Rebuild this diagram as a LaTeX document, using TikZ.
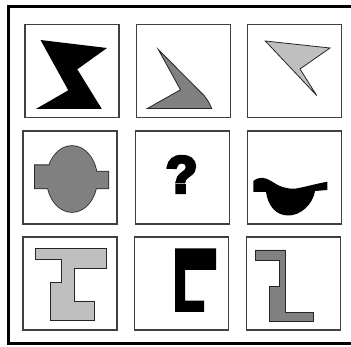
\documentclass[tikz,border=0pt]{standalone}
\usepackage{fontspec}
\setmainfont{Liberation Sans}
\newfontfamily\questfont[BoldFeatures={FakeBold=6}]{Liberation Sans}
\usepackage{tikz}
\usetikzlibrary{positioning}

\begin{document}
\begin{tikzpicture}[
  x=1pt, y=-1pt,
  cell/.style={draw=black!75, line width=1.1pt, minimum width=94pt, minimum height=93pt, inner sep=0pt},
  piece/.style={draw=black!85, line width=0.8pt},
  midgray/.style={fill=black!50},
  lightgray/.style={fill=black!25}
]
\useasboundingbox (0,0) rectangle (351,347);
\draw[line width=3pt] (352,7) -- (8,7) -- (8,344) -- (352,344);

\node[cell] (c11) at (72,71) {};
\node[cell, right=16pt of c11] (c12) {};
\node[cell, right=16pt of c12] (c13) {};
\node[cell] (c21) at (70,177.5) {};
\node[cell, right=17pt of c21] (c22) {};
\node[cell, right=17pt of c22] (c23) {};
\node[cell] (c31) at (70,283.5) {};
\node[cell, right=16pt of c31] (c32) {};
\node[cell, right=17pt of c32] (c33) {};

\fill (40.5,40) -- (107,48) -- (77.3,69.3) -- (101.7,108.8) -- (36.2,108.8) -- (68.3,90.3) -- cycle;
\filldraw[piece, midgray] (158.3,49.5) -- (204,95.5) .. controls (207,99) and (210,104) .. (211.7,108.5)
  -- (147.3,108.5) -- (180.5,89.8) -- cycle;
\filldraw[piece, lightgray] (265.3,41) -- (330,48) -- (300,69) -- (316.7,95.5) -- cycle;

\draw[line width=1.6pt, black!85] (35,165.3) rectangle (72,188.3) (72,171.7) rectangle (108.3,188.3)
  (72,179) ellipse [x radius=25pt, y radius=33pt];
\fill[black!50] (35,165.3) rectangle (72,188.3) (72,171.7) rectangle (108.3,188.3)
  (72,179) ellipse [x radius=25pt, y radius=33pt];
\node[font=\questfont\fontsize{52}{52}\selectfont\bfseries, inner sep=0pt] (quest) at (181.7,174.5) {?};
\fill (253.3,181) .. controls (257,178.5) .. (261.7,177.8) .. controls (268,178) and (272,182) .. (278.3,185.3)
  .. controls (284,188) and (290,189) .. (295,188.7) .. controls (305,187) and (315,184) .. (327.3,181.7)
  -- (327.3,190) -- (315,191) .. controls (313,204) and (301,215.5) .. (288.3,215.5)
  .. controls (276,215.5) and (268,206) .. (266,192) -- (253.3,192) -- cycle;

\filldraw[piece, lightgray] (35,248.3) -- (106,248.3) -- (106,268) -- (74,268) -- (74,301) -- (94,301)
  -- (94,320.3) -- (50,320.3) -- (50,282.5) -- (61.5,282.5) -- (61.5,259) -- (35,259) -- cycle;
\fill (175,248.3) -- (216,248.3) -- (216,270) -- (185,270) -- (185,300.7) -- (204,300.7) -- (204,312)
  -- (175,312) -- cycle;
\filldraw[piece, midgray] (255.7,250) -- (285,250) -- (285,312.7) -- (313.3,312.7) -- (313.3,321.7)
  -- (269.3,321.7) -- (269.3,286.7) -- (279.3,286.7) -- (279.3,260) -- (255.7,260) -- cycle;
\end{tikzpicture}
\end{document}
